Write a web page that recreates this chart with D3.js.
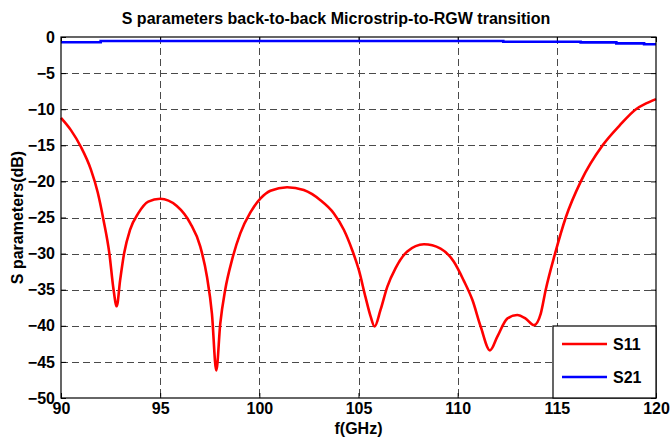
<!DOCTYPE html>
<html><head><meta charset="utf-8">
<script src="https://cdn.jsdelivr.net/npm/d3@7"></script>
<style>
html,body{margin:0;padding:0;background:#fff;}
text{font-family:"Liberation Sans",Arial,Helvetica,sans-serif;font-weight:bold;fill:#000;}
</style></head>
<body><svg id="chart" width="672" height="439"></svg>
<script>
const titleText = "S parameters back-to-back Microstrip-to-RGW transition";
const xLabelText = "f(GHz)";
const yLabelText = "S parameters(dB)";
const seriesNames = ["S11", "S21"];
const seriesColors = ["#ff0000", "#0000ff"];
const xTicks = [90, 95, 100, 105, 110, 115, 120];
const yTicks = [0, -5, -10, -15, -20, -25, -30, -35, -40, -45, -50];

const s11Freq = [90.0, 90.5, 91.0, 91.5, 91.85, 92.14, 92.44, 92.64, 92.81, 92.98, 93.18, 93.48, 93.9, 94.4, 95.0, 95.84, 96.52, 97.02, 97.36, 97.61, 97.83, 98.03, 98.28, 98.62, 99.04, 99.55, 100.05, 100.56, 101.4, 102.24, 103.08, 103.75, 104.26, 104.68, 105.02, 105.35, 105.61, 105.81, 106.11, 106.45, 106.87, 107.46, 108.3, 109.14, 109.8, 110.3, 110.74, 111.16, 111.63, 112.0, 112.5, 113.0, 113.43, 113.85, 114.19, 114.44, 114.91, 115.45, 116.21, 117.31, 118.15, 118.99, 119.5, 120.0];
const s11Values = [-11.2, -12.9, -15.2, -18.3, -21.5, -25.3, -30.0, -34.8, -37.3, -33.7, -30.0, -26.7, -24.4, -22.8, -22.4, -23.4, -25.8, -29.0, -33.2, -38.3, -46.2, -39.7, -35.0, -30.9, -27.2, -24.3, -22.4, -21.3, -20.8, -21.2, -22.6, -24.4, -26.7, -29.5, -32.3, -36.0, -38.7, -40.1, -37.8, -34.6, -32.0, -29.7, -28.7, -29.3, -31.1, -33.7, -36.4, -40.1, -43.4, -41.5, -39.0, -38.5, -39.0, -39.9, -38.3, -35.0, -30.0, -25.0, -20.0, -15.0, -12.3, -10.0, -9.2, -8.6];

const s21Freq = [90.0, 92.0, 92.0, 112.3, 112.3, 116.2, 116.2, 118.0, 118.0, 119.4, 119.4, 120.0];
const s21Values = [-0.72, -0.72, -0.55, -0.55, -0.65, -0.65, -0.75, -0.75, -0.88, -0.88, -1.0, -1.0];

const W = 672, H = 439;
const margin = {left: 61, right: 16, top: 37, bottom: 41};
const svg = d3.select("#chart");
const x = d3.scaleLinear().domain([90, 120]).range([margin.left, W - margin.right]);
const y = d3.scaleLinear().domain([-50, 0]).range([H - margin.bottom, margin.top]);

svg.append("rect").attr("x", x(90)).attr("y", y(0)).attr("width", x(120) - x(90)).attr("height", y(-50) - y(0)).attr("fill", "#fff");

// grid
const grid = svg.append("g").attr("stroke", "#4a4a4a").attr("stroke-width", 1).attr("stroke-dasharray", "7,4").attr("fill", "none");
xTicks.slice(1, -1).forEach(t => grid.append("line").attr("x1", Math.round(x(t)) + 0.5).attr("x2", Math.round(x(t)) + 0.5).attr("y1", y(0)).attr("y2", y(-50)));
yTicks.slice(1, -1).forEach(t => grid.append("line").attr("y1", Math.round(y(t)) + 0.5).attr("y2", Math.round(y(t)) + 0.5).attr("x1", x(90)).attr("x2", x(120)));

// axes
const fontSize = 16;
const xAxis = d3.axisBottom(x).tickValues(xTicks).tickSizeInner(-5).tickSizeOuter(0).tickPadding(5);
const yAxis = d3.axisLeft(y).tickValues(yTicks).tickSizeInner(-5).tickSizeOuter(0).tickPadding(6);
const gx = svg.append("g").attr("transform", `translate(0,${y(-50)})`).call(xAxis);
const gy = svg.append("g").attr("transform", `translate(${x(90)},0)`).call(yAxis);
[gx, gy].forEach(g => {
  g.select(".domain").remove();
  g.selectAll("text").attr("font-size", fontSize).attr("font-family", "Liberation Sans, Arial, sans-serif").attr("font-weight", "bold").attr("fill", "#000");
  g.selectAll("line").attr("stroke", "#000");
});
svg.append("g").attr("transform", `translate(0,${y(0)})`).call(d3.axisTop(x).tickValues(xTicks).tickSizeInner(-5).tickSizeOuter(0).tickFormat("")).call(g => { g.select(".domain").remove(); g.selectAll("line").attr("stroke", "#000"); });
svg.append("g").attr("transform", `translate(${x(120)},0)`).call(d3.axisRight(y).tickValues(yTicks).tickSizeInner(-5).tickSizeOuter(0).tickFormat("")).call(g => { g.select(".domain").remove(); g.selectAll("line").attr("stroke", "#000"); });

// lines
const s11 = s11Freq.map((f, i) => [f, s11Values[i]]);
const s21 = s21Freq.map((f, i) => [f, s21Values[i]]);
svg.append("clipPath").attr("id", "clip").append("rect").attr("x", x(90)).attr("y", y(0)).attr("width", x(120) - x(90)).attr("height", y(-50) - y(0));
svg.append("path").datum(s11).attr("d", d3.line().x(d => x(d[0])).y(d => y(d[1])).curve(d3.curveMonotoneX)).attr("fill", "none").attr("stroke", seriesColors[0]).attr("stroke-width", 2.6).attr("stroke-linejoin", "round");
svg.append("path").datum(s21).attr("d", d3.line().x(d => x(d[0])).y(d => y(d[1]))).attr("fill", "none").attr("stroke", seriesColors[1]).attr("stroke-width", 2.6).attr("clip-path", "url(#clip)");

// frame
svg.append("rect").attr("x", x(90)).attr("y", y(0)).attr("width", x(120) - x(90)).attr("height", y(-50) - y(0)).attr("fill", "none").attr("stroke", "#000").attr("stroke-width", 1.2);

// legend
const lg = svg.append("g");
const lx0 = 553, ly0 = 326, lw = x(120) - 553, lh = y(-50) - 326;
lg.append("rect").attr("x", lx0).attr("y", ly0).attr("width", lw).attr("height", lh).attr("fill", "#fff").attr("stroke", "#000").attr("stroke-width", 1.2);
seriesNames.forEach((n, i) => {
  const yy = ly0 + 18 + i * 33;
  lg.append("line").attr("x1", lx0 + 9).attr("x2", lx0 + 54).attr("y1", yy).attr("y2", yy).attr("stroke", seriesColors[i]).attr("stroke-width", 2.6);
  lg.append("text").attr("x", lx0 + 60).attr("y", yy + 6).attr("font-size", fontSize).text(n);
});

// labels
svg.append("text").attr("x", 336).attr("y", 24).attr("text-anchor", "middle").attr("font-size", fontSize).text(titleText);
svg.append("text").attr("x", (x(90) + x(120)) / 2).attr("y", 434).attr("text-anchor", "middle").attr("font-size", fontSize).text(xLabelText);
svg.append("text").attr("transform", `translate(23,${(y(0) + y(-50)) / 2}) rotate(-90)`).attr("text-anchor", "middle").attr("font-size", fontSize).text(yLabelText);
</script></body></html>
